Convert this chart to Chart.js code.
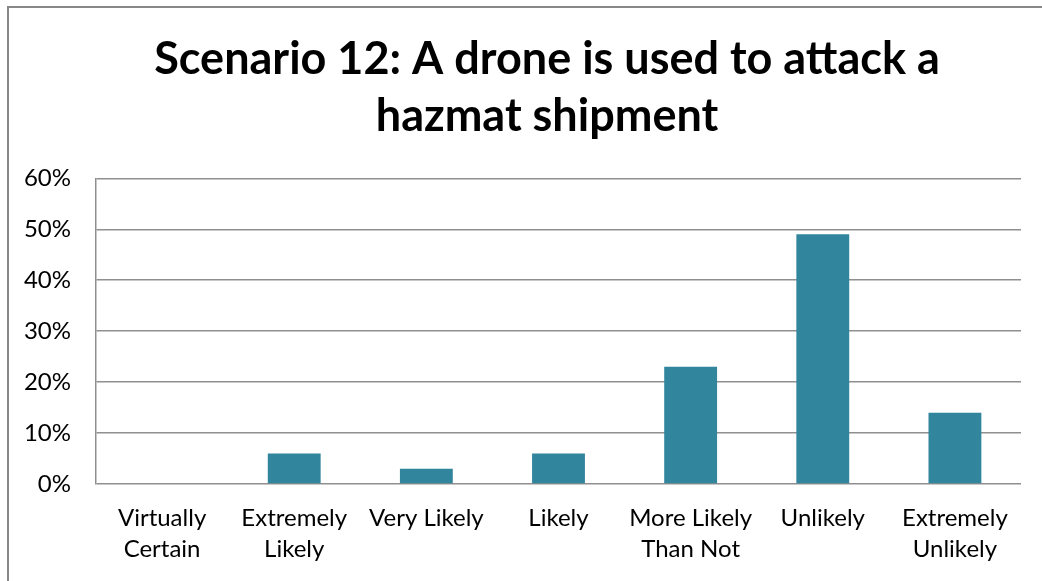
<!DOCTYPE html>
<html>
<head>
<meta charset="utf-8">
<script src="https://cdn.jsdelivr.net/npm/chart.js@4.4.1/dist/chart.umd.min.js"></script>
<style>
  html, body { margin: 0; padding: 0; background: #fff; overflow: hidden; }
  #frame { position: absolute; left: 7px; top: 6px; width: 1100px; height: 700px; border: 2px solid #878787; box-sizing: border-box; }
  #wrap { position: absolute; left: 0; top: 0; width: 1042px; height: 581px; }
</style>
</head>
<body>
<div id="frame"></div>
<div id="wrap"><canvas id="c" width="1042" height="581"></canvas></div>
<script>
const titleLines = ['Scenario 12: A drone is used to attack a', 'hazmat shipment'];
const categories = [
  ['Virtually', 'Certain'],
  ['Extremely', 'Likely'],
  'Very Likely',
  'Likely',
  ['More Likely', 'Than Not'],
  'Unlikely',
  ['Extremely', 'Unlikely']
];
const values = [0, 6, 3, 6, 23, 49, 14];
const yMax = 60;
const yStep = 10;

// shift the title's horizontal box so it centres like the reference
const titleShift = {
  id: 'titleShift',
  afterLayout(chart) {
    const t = chart.titleBlock;
    if (t) { t.left = 73; t.right = 1021; t.width = t.right - t.left; }
  }
};

new Chart(document.getElementById('c'), {
  type: 'bar',
  data: {
    labels: categories,
    datasets: [{
      data: values,
      backgroundColor: '#31859C',
      borderWidth: 0,
      barPercentage: 0.4,
      categoryPercentage: 1.0
    }]
  },
  plugins: [titleShift],
  options: {
    responsive: false,
    animation: false,
    layout: { padding: { left: 0, right: 21, top: 0, bottom: 0 } },
    plugins: {
      legend: { display: false },
      tooltip: { enabled: false },
      title: {
        display: true,
        text: titleLines,
        color: '#000',
        font: { family: 'Lato', size: 45, weight: 'bold', lineHeight: 1.27 },
        padding: { top: 31, bottom: 33 }
      }
    },
    scales: {
      x: {
        grid: { display: false, drawTicks: false },
        border: { display: false },
        ticks: {
          color: '#000',
          font: { family: 'Lato', size: 24, lineHeight: 1.28 },
          padding: 19,
          maxRotation: 0,
          autoSkip: false
        },
        afterFit: s => { s.height = 97; }
      },
      y: {
        min: 0,
        max: yMax,
        grid: { color: '#8f8f8f', lineWidth: 1.5, drawTicks: false },
        border: { display: true, color: '#8f8f8f', width: 1.5 },
        ticks: {
          stepSize: yStep,
          color: '#000',
          padding: 25,
          font: { family: 'Lato', size: 24 },
          callback: v => v + '%'
        },
        afterFit: s => { s.width = 96; }
      }
    }
  }
});
</script>
</body>
</html>
